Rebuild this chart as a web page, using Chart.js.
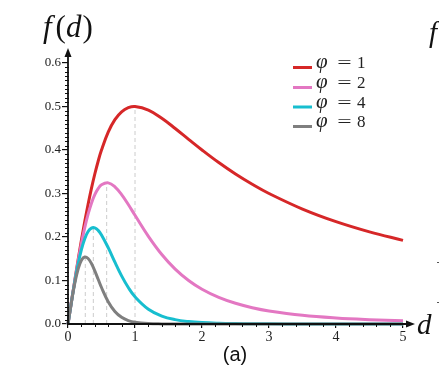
<!DOCTYPE html>
<html><head><meta charset="utf-8">
<script src="https://cdn.jsdelivr.net/npm/chart.js@4/dist/chart.umd.min.js"></script>
<style>html,body{margin:0;padding:0;background:#fff}#wrap{width:439px;height:375px;position:relative}</style>
</head><body><div id="wrap"><canvas id="c" width="439" height="375"></canvas></div>
<script>
// ---- data ----
const dValues = [0,0.05,0.1,0.15,0.2,0.25,0.3,0.35,0.4,0.45,0.5,0.6,0.7,0.8,0.9,1.0,1.2,1.4,1.6,1.8,2.0,2.25,2.5,2.75,3.0,3.5,4.0,4.5,5.0];
const phi1 = [0,0.0499,0.0990,0.1467,0.1923,0.2353,0.2752,0.3118,0.3448,0.3742,0.4,0.4412,0.4698,0.4878,0.4972,0.5,0.4918,0.4730,0.4494,0.4245,0.4,0.3711,0.3448,0.3212,0.3,0.2642,0.2353,0.2118,0.1923];
const phi2 = [0,0.0498,0.0980,0.1435,0.1849,0.2215,0.2525,0.2778,0.2973,0.3112,0.32,0.3244,0.3153,0.2974,0.2747,0.25,0.2016,0.1598,0.1262,0.1001,0.08,0.0612,0.0476,0.0375,0.03,0.0199,0.0138,0.0100,0.0074];
const phi4 = [0,0.0496,0.0961,0.1373,0.1710,0.1962,0.2125,0.2205,0.2209,0.2152,0.2048,0.1754,0.1420,0.1106,0.0838,0.0625,0.0339,0.0182,0.0100,0.0056,0.0032,0.0017,0.0009,0.0005,0.0003,0.0001,0.0001,0,0];
const phi8 = [0,0.0491,0.0924,0.1256,0.1462,0.1540,0.1505,0.1389,0.1220,0.1029,0.0839,0.0513,0.0288,0.0153,0.0078,0.0039,0.0010,0.0002,0.0001,0,0,0,0,0,0,0,0,0,0];
const peakD = [0.258, 0.378, 0.577, 1.0];
const peakF = [0.154, 0.2215, 0.325, 0.5];
const phiLabels = ['1','2','4','8'];
const xTickValues = [0,1,2,3,4,5];
const yTickValues = [0,0.1,0.2,0.3,0.4,0.5,0.6];

const colors = ['#d62728','#e377c2','#17becf','#7f7f7f'];
const series = [phi1, phi2, phi4, phi8];
const pts = arr => dValues.map((d,i)=>({x:d, y:arr[i]}));

const datasets = series.map((arr,i)=>({
  label: 'φ = ' + phiLabels[i],
  data: pts(arr),
  borderColor: colors[i],
  borderWidth: 3,
  pointRadius: 0,
  showLine: true,
  fill: false,
  tension: 0.4,
  clip: 6,
  order: 4 - i
}));
peakD.forEach((d,i)=>{
  datasets.push({
    label: 'peak' + i,
    data: [{x:d,y:0},{x:d,y:peakF[i]}],
    borderColor: '#cccccc',
    borderWidth: 1,
    borderDash: [4,3],
    pointRadius: 0,
    showLine: true,
    order: 10
  });
});

const SERIF = '"Liberation Serif", "DejaVu Serif", serif';

const axisPlugin = {
  id: 'axesArrows',
  afterDatasetsDraw(chart){
    const {ctx} = chart; const x = chart.scales.x, y = chart.scales.y;
    const x0 = x.getPixelForValue(0), y0 = y.getPixelForValue(0);
    const yTop = y.getPixelForValue(0.6) - 15;
    const xEnd = x.getPixelForValue(5) + 12;
    ctx.save();
    ctx.strokeStyle = '#111'; ctx.fillStyle = '#111';
    ctx.lineWidth = 1;
    for (let k = 1; k < 60; k++) {
      if (k % 10 === 0) continue;
      const py = Math.round(y.getPixelForValue(k/100)) + 0.5;
      ctx.beginPath(); ctx.moveTo(x0-3, py); ctx.lineTo(x0+1, py); ctx.stroke();
    }
    for (let k = 1; k < 25; k++) {
      if (k % 5 === 0) continue;
      const px = Math.round(x.getPixelForValue(k/5)) + 0.5;
      ctx.beginPath(); ctx.moveTo(px, y0); ctx.lineTo(px, y0+3); ctx.stroke();
    }
    ctx.lineWidth = 1.8;
    ctx.beginPath(); ctx.moveTo(x0, y0+1); ctx.lineTo(x0, yTop+6); ctx.stroke();
    ctx.beginPath(); ctx.moveTo(x0, yTop); ctx.lineTo(x0-3.5, yTop+9); ctx.lineTo(x0+3.5, yTop+9); ctx.closePath(); ctx.fill();
    ctx.beginPath(); ctx.moveTo(x0-1, y0); ctx.lineTo(xEnd-6, y0); ctx.stroke();
    ctx.beginPath(); ctx.moveTo(xEnd, y0); ctx.lineTo(xEnd-9, y0-3.5); ctx.lineTo(xEnd-9, y0+3.5); ctx.closePath(); ctx.fill();
    ctx.restore();
  },
  afterDraw(chart){
    const {ctx} = chart;
    ctx.save();
    ctx.fillStyle = '#111';
    ctx.textBaseline = 'alphabetic';
    let px = 43;
    const parts = [['f','italic '],['(',''],['d','italic '],[')','']];
    parts.forEach(([t,st])=>{
      ctx.font = st + '31px ' + SERIF;
      ctx.fillText(t, px, 37);
      px += ctx.measureText(t).width + (t==='f' ? 4 : (t==='d' ? 1 : 0));
    });
    ctx.font = 'italic 29px ' + SERIF;
    ctx.fillText('d', 417, 334);
    ctx.fillText('f', 429, 42);
    ctx.font = '20px "Liberation Sans", Arial, sans-serif';
    ctx.textAlign = 'center';
    ctx.fillText('(a)', 235, 361);
    ctx.textAlign = 'left';
    const baseY = [68, 88, 107.5, 127];
    datasets.slice(0,4).forEach((ds,i)=>{
      const by = baseY[i];
      ctx.strokeStyle = ds.borderColor; ctx.lineWidth = 3;
      ctx.beginPath(); ctx.moveTo(293, by-0.5); ctx.lineTo(312, by-0.5); ctx.stroke();
      ctx.fillStyle = '#222';
      ctx.font = 'italic 21px ' + SERIF;
      ctx.fillText('φ', 316, by);
      ctx.font = '17px ' + SERIF;
      ctx.save(); ctx.translate(344.5, by); ctx.scale(1.5,1); ctx.textAlign='center'; ctx.fillText('=', 0, 0); ctx.restore();
      ctx.fillText(phiLabels[i], 357, by);
    });
    ctx.strokeStyle = '#555'; ctx.lineWidth = 1;
    [262, 302].forEach(v=>{ ctx.beginPath(); ctx.moveTo(437, v+0.5); ctx.lineTo(439, v+0.5); ctx.stroke(); });
    ctx.restore();
  }
};

new Chart(document.getElementById('c'), {
  type: 'scatter',
  data: { datasets },
  options: {
    responsive: false,
    devicePixelRatio: 1,
    animation: false,
    layout: { padding: { left: 0, top: 63, right: 36, bottom: 21 } },
    plugins: { legend: { display: false }, tooltip: { enabled: false } },
    scales: {
      x: {
        type: 'linear', min: 0, max: 5,
        afterBuildTicks: s => { s.ticks = xTickValues.map(v=>({value:v})); },
        afterFit: s => { s.height = 30; },
        ticks: { color: '#222', font: { family: SERIF, size: 14 }, padding: 1, callback: v => String(v) },
        grid: { display: true, drawOnChartArea: false, drawTicks: true, tickLength: 4, color: '#111', lineWidth: 1.2 },
        border: { display: false }
      },
      y: {
        type: 'linear', min: 0, max: 0.6,
        afterBuildTicks: s => { s.ticks = yTickValues.map(v=>({value:v})); },
        afterFit: s => { s.width = 68; },
        ticks: { color: '#222', font: { family: SERIF, size: 13 }, padding: 1, callback: v => Number(v).toFixed(1) },
        grid: { display: true, drawOnChartArea: false, drawTicks: true, tickLength: 6, color: '#111', lineWidth: 1.2 },
        border: { display: false }
      }
    }
  },
  plugins: [axisPlugin]
});
</script>
</body></html>
